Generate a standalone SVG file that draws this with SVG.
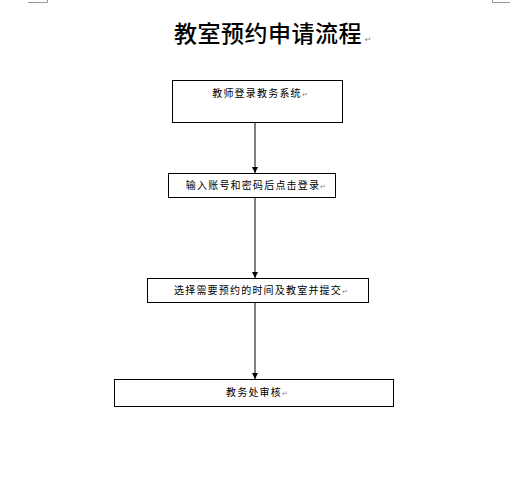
<svg xmlns="http://www.w3.org/2000/svg" width="521" height="497" viewBox="0 0 521 497">
<style>
.box{fill:#fff;stroke:#000;stroke-width:1}
.t{font-family:"Liberation Sans","Noto Sans CJK SC",sans-serif;font-size:10px;letter-spacing:1.2px;fill:#000;text-anchor:middle}
.pm{fill:#888;font-size:7px;letter-spacing:0}
.c{stroke:#000;stroke-width:1;fill:none;marker-end:url(#ah)}
.corner{stroke:#999;stroke-width:1;fill:none}
</style>
<defs>
<marker id="ah" viewBox="0 0 10 10" refX="10" refY="5" markerWidth="6" markerHeight="6" orient="auto" markerUnits="userSpaceOnUse">
<path d="M0,0 L10,5 L0,10 z" fill="#000"/>
</marker>
</defs>
<rect width="521" height="497" fill="#fff"/>
<path class="corner" d="M28,2.5 H47.5 V0"/>
<path class="corner" d="M510,2.5 H492.5 V0"/>
<g id="title">
<text x="268" y="42" font-family="Noto Sans CJK SC,sans-serif" font-size="23" font-weight="500" text-anchor="middle" letter-spacing="0.5">教室预约申请流程</text>
<text x="365" y="42" font-family="DejaVu Sans,sans-serif" font-size="8" fill="#888">↵</text>
</g>
<g id="connectors">
<line class="c" x1="255" y1="122" x2="255" y2="173"/>
<line class="c" x1="255" y1="197" x2="255" y2="278"/>
<line class="c" x1="255" y1="302" x2="255" y2="379"/>
</g>
<g id="n1">
<rect class="box" x="172.5" y="80.5" width="170" height="42"/>
<text class="t" x="260" y="97">教师登录教务系统<tspan class="pm">↵</tspan></text>
</g>
<g id="n2">
<rect class="box" x="168.5" y="173.5" width="167" height="24"/>
<text class="t" x="256" y="189">输入账号和密码后点击登录<tspan class="pm">↵</tspan></text>
</g>
<g id="n3">
<rect class="box" x="147.5" y="278.5" width="221" height="24"/>
<text class="t" x="261" y="294">选择需要预约的时间及教室并提交<tspan class="pm">↵</tspan></text>
</g>
<g id="n4">
<rect class="box" x="114.5" y="379.5" width="279" height="27"/>
<text class="t" x="257" y="396">教务处审核<tspan class="pm">↵</tspan></text>
</g>
</svg>
